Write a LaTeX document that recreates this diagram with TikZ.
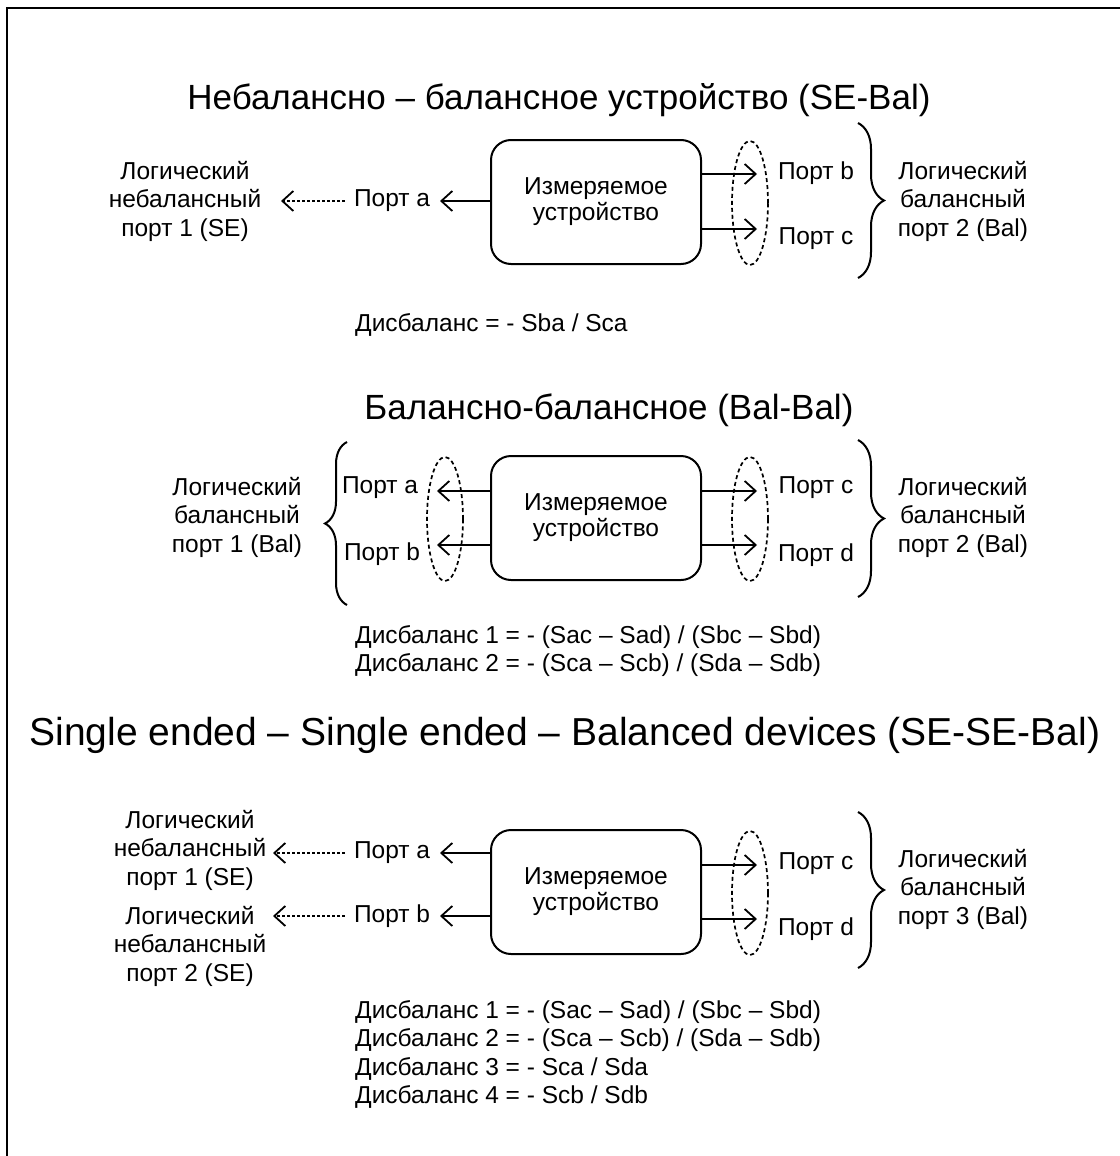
\documentclass[tikz,border=0pt]{standalone}
\usepackage{fontspec}
\setmainfont{Liberation Sans}
\usetikzlibrary{arrows.meta,shapes.geometric,decorations.pathreplacing}
\begin{document}
\begin{tikzpicture}[x=1pt,y=-1pt,
  every node/.style={font=\fontsize{24.5}{28.5}\selectfont, inner sep=0pt},
  title/.style={font=\fontsize{35}{40}\selectfont},
  txt/.style={align=center},
  dut/.style={draw, line width=2pt, rounded corners=20pt, minimum width=210pt, minimum height=124pt, align=center, font=\fontsize{24.5}{26}\selectfont},
  arr/.style={line width=1.8pt, -{Straight Barb[length=11pt,width=20pt,line width=1.8pt]}},
  darr/.style={arr, dash pattern=on 3pt off 2pt},
  oval/.style={draw, ellipse, dash pattern=on 4pt off 3pt, line width=1.7pt, minimum width=36pt, minimum height=124pt},
  brc/.style={decorate, decoration={brace, amplitude=26pt}, line width=2pt}
]
\useasboundingbox (0,0) rectangle (1119,1156);
\draw[line width=2.5pt] (7,1170) -- (7,8) -- (1130,8);

% ---------- Section 1 ----------
\node[title] (t1) at (559,100) {Небалансно – балансное устройство (SE-Bal)};
\node[dut] (b1) at (596,202) {Измеряемое\\устройство};
\node[txt] (L1) at (185,201) {Логический\\небалансный\\порт 1 (SE)};
\node (pa1) at (392,201) {Порт a};
\coordinate (d1) at (281,201);
\coordinate (s1) at (440,201);
\draw[arr] (b1.west |- s1) -- (s1);
\draw[darr] ([xshift=-9pt]pa1.west) -- (d1);
\node[oval] (e1) at (750,203) {};
\coordinate (r1a) at (757,174);
\coordinate (r1b) at (757,229);
\draw[arr] (b1.east |- r1a) -- (r1a);
\draw[arr] (b1.east |- r1b) -- (r1b);
\node (pb1) at (816,173) {Порт b};
\node (pc1) at (816,239) {Порт c};
\coordinate (k1a) at (858,123);
\coordinate (k1b) at (858,278);
\draw[brc] (k1a) -- (k1b);
\node[txt] (R1) at (963,201) {Логический\\балансный\\порт 2 (Bal)};
\node[anchor=west] (f1) at (355,325) {Дисбаланс = - Sba / Sca};

% ---------- Section 2 ----------
\node[title] (t2) at (609,410) {Балансно-балансное (Bal-Bal)};
\node[dut] (b2) at (596,518) {Измеряемое\\устройство};
\coordinate (k2a) at (347,605);
\coordinate (k2b) at (347,442);
\draw[brc, decoration={amplitude=22pt}] (k2a) -- (k2b);
\node[txt] (L2) at (237,517) {Логический\\балансный\\порт 1 (Bal)};
\node (pa2) at (380,488) {Порт a};
\node (pb2) at (382,554) {Порт b};
\node[oval] (e2l) at (445,519) {};
\coordinate (l2a) at (437,491);
\coordinate (l2b) at (437,545);
\draw[arr] (b2.west |- l2a) -- (l2a);
\draw[arr] (b2.west |- l2b) -- (l2b);
\node[oval] (e2r) at (750,519) {};
\coordinate (r2a) at (757,491);
\coordinate (r2b) at (757,545);
\draw[arr] (b2.east |- r2a) -- (r2a);
\draw[arr] (b2.east |- r2b) -- (r2b);
\node (pc2) at (816,488) {Порт c};
\node (pd2) at (816,555) {Порт d};
\coordinate (k2c) at (858,440);
\coordinate (k2d) at (858,597);
\draw[brc] (k2c) -- (k2d);
\node[txt] (R2) at (963,517) {Логический\\балансный\\порт 2 (Bal)};
\node[anchor=west] (f2a) at (355,637) {Дисбаланс 1 = - (Sac – Sad) / (Sbc – Sbd)};
\node[anchor=west] (f2b) at (355,665) {Дисбаланс 2 = - (Sca – Scb) / (Sda – Sdb)};

% ---------- Section 3 ----------
\node[title, font=\fontsize{39}{44}\selectfont] (t3) at (565,735) {Single ended – Single ended – Balanced devices (SE-SE-Bal)};
\node[dut] (b3) at (596,892) {Измеряемое\\устройство};
\node[txt] (L3a) at (190,850) {Логический\\небалансный\\порт 1 (SE)};
\node[txt] (L3b) at (190,946) {Логический\\небалансный\\порт 2 (SE)};
\node (pa3) at (392,853) {Порт a};
\node (pb3) at (392,916) {Порт b};
\coordinate (d3a) at (273,853);
\coordinate (d3b) at (273,916);
\coordinate (s3a) at (440,853);
\coordinate (s3b) at (440,916);
\draw[arr] (b3.west |- s3a) -- (s3a);
\draw[arr] (b3.west |- s3b) -- (s3b);
\draw[darr] ([xshift=-9pt]pa3.west) -- (d3a);
\draw[darr] ([xshift=-9pt]pb3.west) -- (d3b);
\node[oval] (e3) at (750,893) {};
\coordinate (r3a) at (757,865);
\coordinate (r3b) at (757,919);
\draw[arr] (b3.east |- r3a) -- (r3a);
\draw[arr] (b3.east |- r3b) -- (r3b);
\node (pc3) at (816,864) {Порт c};
\node (pd3) at (816,929) {Порт d};
\coordinate (k3a) at (858,812);
\coordinate (k3b) at (858,968);
\draw[brc] (k3a) -- (k3b);
\node[txt] (R3) at (963,889) {Логический\\балансный\\порт 3 (Bal)};
\node[anchor=west] (f3a) at (355,1012) {Дисбаланс 1 = - (Sac – Sad) / (Sbc – Sbd)};
\node[anchor=west] (f3b) at (355,1040) {Дисбаланс 2 = - (Sca – Scb) / (Sda – Sdb)};
\node[anchor=west] (f3c) at (355,1069) {Дисбаланс 3 = - Sca / Sda};
\node[anchor=west] (f3d) at (355,1097) {Дисбаланс 4 = - Scb / Sdb};
\end{tikzpicture}
\end{document}
